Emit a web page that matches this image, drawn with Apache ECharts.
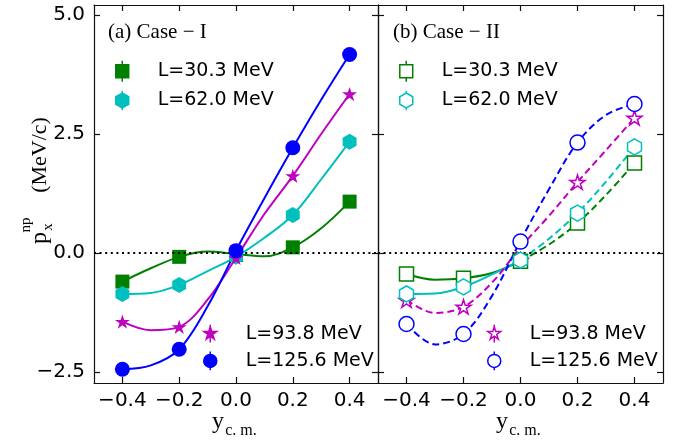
<!DOCTYPE html>
<html>
<head>
<meta charset="utf-8">
<script src="https://cdn.jsdelivr.net/npm/echarts@6/dist/echarts.min.js"></script>
<style>
  html, body { margin: 0; padding: 0; background: #fff; }
  #chart { width: 686px; height: 444px; }
</style>
</head>
<body>
<div id="chart"></div>
<script>
// x positions of the points and of the fit curves
var ycm = [-0.4, -0.2, 0.0, 0.2, 0.4];
var fitX = [-0.4, -0.3, -0.2, -0.1, 0.0, 0.1, 0.2, 0.3, 0.4];
var xTicks = [-0.4, -0.2, 0.0, 0.2, 0.4];
var yTicks = [-2.5, 0.0, 2.5, 5.0];
var names = ['L=30.3 MeV', 'L=62.0 MeV', 'L=93.8 MeV', 'L=125.6 MeV'];

// (a) Case-I points
var caseI_L30 = [-0.60, -0.08, -0.04, 0.12, 1.08];
var caseI_L62 = [-0.86, -0.67, -0.08, 0.80, 2.34];
var caseI_L94 = [-1.44, -1.55, -0.10, 1.62, 3.34];
var caseI_L126 = [-2.44, -2.02, 0.05, 2.21, 4.17];
// (a) Case-I fit curves
var caseI_fit30 = [-0.60, -0.32, -0.08, 0.03, -0.02, -0.07, 0.12, 0.52, 1.08];
var caseI_fit62 = [-0.86, -0.84, -0.67, -0.38, -0.08, 0.32, 0.80, 1.55, 2.34];
var caseI_fit94 = [-1.44, -1.62, -1.55, -0.98, -0.10, 0.82, 1.62, 2.50, 3.34];
var caseI_fit126 = [-2.44, -2.36, -2.02, -1.12, 0.05, 1.15, 2.21, 3.22, 4.17];

// (b) Case-II points
var caseII_L30 = [-0.44, -0.53, -0.17, 0.63, 1.89];
var caseII_L62 = [-0.86, -0.71, -0.15, 0.84, 2.23];
var caseII_L94 = [-0.99, -1.13, -0.15, 1.49, 2.84];
var caseII_L126 = [-1.49, -1.70, 0.24, 2.32, 3.13];
// (b) Case-II fit curves
var caseII_fit30 = [-0.44, -0.56, -0.53, -0.42, -0.17, 0.18, 0.63, 1.22, 1.89];
var caseII_fit62 = [-0.86, -0.85, -0.71, -0.45, -0.15, 0.30, 0.84, 1.50, 2.23];
var caseII_fit94 = [-0.99, -1.26, -1.13, -0.62, 0.12, 0.78, 1.49, 2.16, 2.84];
var caseII_fit126 = [-1.49, -1.92, -1.70, -0.90, 0.26, 1.34, 2.32, 2.90, 3.13];

var colors = ['#008000', '#00bfbf', '#bf00bf', '#0000ff'];
var SANS = 'DejaVu Sans';

// marker shapes
var SQUARE = 'rect';
var HEX = 'path://M0,-100 L87,-50 L87,50 L0,100 L-87,50 L-87,-50 Z';
var STAR = 'path://M0,-100 L22,-31 L95,-31 L36,12 L59,81 L0,38 L-59,81 L-36,12 L-95,-31 L-22,-31 Z';
var CIRCLE = 'circle';
// legend icons with the small error bar
var ICONS = [
  'path://M-80,-80 L80,-80 L80,80 L-80,80 Z M0,-80 L0,-130 M0,80 L0,130',
  'path://M0,-100 L87,-50 L87,50 L0,100 L-87,50 L-87,-50 Z M0,-100 L0,-130 M0,100 L0,130',
  'path://M0,-100 L22,-31 L95,-31 L36,12 L59,81 L0,38 L-59,81 L-36,12 L-95,-31 L-22,-31 Z M0,-100 L0,-130 M0,38 L0,130',
  'path://M0,-90 A90,90 0 1,1 0,90 A90,90 0 1,1 0,-90 Z M0,-90 L0,-130 M0,90 L0,130'
];
var shapes = [SQUARE, HEX, STAR, CIRCLE];
var sizes = [14, 16, 15, 15];

function pts(vals) { return ycm.map(function (x, i) { return [x, vals[i]]; }); }
function fit(vals) { return fitX.map(function (x, i) { return [x, vals[i]]; }); }

function fmt(v) {
  return (v < 0 ? '\u2212' : '') + Math.abs(v).toFixed(1);
}

var axisLineStyle = { color: '#111', width: 1.2 };

function xAxisFor(g, pos, labels) {
  return {
    type: 'value', gridIndex: g, position: pos, min: -0.5, max: 0.5,
    axisLine: { show: true, onZero: false, lineStyle: axisLineStyle },
    axisTick: { show: true, inside: true, length: 6, customValues: xTicks, lineStyle: axisLineStyle },
    axisLabel: { show: labels, customValues: xTicks, formatter: fmt, margin: 8,
      fontFamily: SANS, fontSize: 20, color: '#000' },
    splitLine: { show: false }
  };
}
function yAxisFor(g, pos, labels) {
  return {
    type: 'value', gridIndex: g, position: pos, min: -2.73, max: 5.21,
    axisLine: { show: true, onZero: false, lineStyle: axisLineStyle },
    axisTick: { show: true, inside: true, length: 6, customValues: yTicks, lineStyle: axisLineStyle },
    axisLabel: { show: labels, customValues: yTicks, formatter: fmt, margin: 9,
      fontFamily: SANS, fontSize: 20, color: '#000' },
    splitLine: { show: false }
  };
}

var zeroLine = {
  silent: true, symbol: ['none', 'none'], label: { show: false },
  lineStyle: { color: '#000', width: 2, type: [2, 3.6] },
  data: [{ yAxis: 0 }]
};

var series = [];
function addPanel(tag, g, pointSets, fitSets, open) {
  var xi = g * 2, yi = g * 2;
  fitSets.forEach(function (f, k) {
    if (open && k < 2) {
      // solid part on the left, dashed part on the right
      series.push({
        type: 'line', xAxisIndex: xi, yAxisIndex: yi, data: fit(f).slice(0, 5),
        smooth: 0.35, showSymbol: false, silent: true, z: 2,
        lineStyle: { color: colors[k], width: 2 },
        markLine: k === 0 ? zeroLine : undefined
      });
      series.push({
        type: 'line', xAxisIndex: xi, yAxisIndex: yi, data: fit(f).slice(4),
        smooth: 0.35, showSymbol: false, silent: true, z: 2,
        lineStyle: { color: colors[k], width: 2, type: [7, 4] }
      });
    } else {
      series.push({
        type: 'line', xAxisIndex: xi, yAxisIndex: yi, data: fit(f),
        smooth: 0.35, showSymbol: false, silent: true, z: 2,
        lineStyle: { color: colors[k], width: 2, type: open ? [7, 4] : 'solid' },
        markLine: k === 0 ? zeroLine : undefined
      });
    }
  });
  pointSets.forEach(function (p, k) {
    series.push({
      name: tag + names[k], type: 'scatter', xAxisIndex: xi, yAxisIndex: yi,
      data: pts(p), symbol: shapes[k], symbolSize: sizes[k], symbolKeepAspect: true,
      z: open ? (k >= 2 ? 3 : 5 + k) : 3 + k,
      itemStyle: open ? { color: '#fff', borderColor: colors[k], borderWidth: 1.5, opacity: 1 }
                      : { color: colors[k], borderWidth: 0, opacity: 1 }
    });
  });
}

addPanel('a:', 0, [caseI_L30, caseI_L62, caseI_L94, caseI_L126],
  [caseI_fit30, caseI_fit62, caseI_fit94, caseI_fit126], false);
addPanel('b:', 1, [caseII_L30, caseII_L62, caseII_L94, caseII_L126],
  [caseII_fit30, caseII_fit62, caseII_fit94, caseII_fit126], true);

function legendFor(tag, idx, left, top, open) {
  return {
    orient: 'vertical', left: left, top: top, itemWidth: 13, itemHeight: 21, itemGap: 7.5,
    selectedMode: false, padding: 0,
    formatter: function (n) { return n.slice(2); },
    textStyle: { fontFamily: SANS, fontSize: 19, color: '#000', padding: [0, 0, 0, 24] },
    data: idx.map(function (k) {
      return {
        name: tag + names[k], icon: ICONS[k],
        itemStyle: open ? { color: '#fff', borderColor: colors[k], borderWidth: 1.5, opacity: 1 }
                        : { color: colors[k], borderColor: colors[k], borderWidth: 1.5, opacity: 1 }
      };
    })
  };
}

var option = {
  backgroundColor: '#fff',
  animation: false,
  grid: [
    { left: 94, right: 308, top: 5, bottom: 61 },
    { left: 378, right: 23, top: 5, bottom: 61 }
  ],
  xAxis: [xAxisFor(0, 'bottom', true), xAxisFor(0, 'top', false),
          xAxisFor(1, 'bottom', true), xAxisFor(1, 'top', false)],
  yAxis: [yAxisFor(0, 'left', true), yAxisFor(0, 'right', false),
          yAxisFor(1, 'left', false), yAxisFor(1, 'right', false)],
  legend: [
    legendFor('a:', [0, 1], 115, 60, false),
    legendFor('a:', [2, 3], 203, 324, false),
    legendFor('b:', [0, 1], 399, 60, true),
    legendFor('b:', [2, 3], 487, 324, true)
  ],
  graphic: [
    { type: 'text', left: 108, top: 22, style: { text: '(a) Case \u2212 I', font: '21px "Liberation Serif"', fill: '#000' } },
    { type: 'text', left: 393, top: 22, style: { text: '(b) Case \u2212 II', font: '21px "Liberation Serif"', fill: '#000' } },
    { type: 'text', x: 218, y: 422, style: { text: 'y', font: '24px "Liberation Serif"', fill: '#000', align: 'center', verticalAlign: 'middle' } },
    { type: 'text', x: 241, y: 431, style: { text: 'c. m.', font: '16px "Liberation Serif"', fill: '#000', align: 'center', verticalAlign: 'middle' } },
    { type: 'text', x: 502, y: 422, style: { text: 'y', font: '24px "Liberation Serif"', fill: '#000', align: 'center', verticalAlign: 'middle' } },
    { type: 'text', x: 525, y: 431, style: { text: 'c. m.', font: '16px "Liberation Serif"', fill: '#000', align: 'center', verticalAlign: 'middle' } },
    { type: 'text', x: 40, y: 155, rotation: Math.PI / 2, style: { text: '(MeV/c)', font: '22px "Liberation Serif"', fill: '#000', align: 'center', verticalAlign: 'middle' } },
    { type: 'text', x: 40, y: 238, rotation: Math.PI / 2, style: { text: 'p', font: '24px "Liberation Serif"', fill: '#000', align: 'center', verticalAlign: 'middle' } },
    { type: 'text', x: 48, y: 227, rotation: Math.PI / 2, style: { text: 'x', font: '15px "Liberation Serif"', fill: '#000', align: 'center', verticalAlign: 'middle' } },
    { type: 'text', x: 26, y: 225, rotation: Math.PI / 2, style: { text: 'np', font: '15px "Liberation Serif"', fill: '#000', align: 'center', verticalAlign: 'middle' } }
  ],
  series: series
};

var chart = echarts.init(document.getElementById('chart'), null, { renderer: 'canvas' });
chart.setOption(option);
</script>
</body>
</html>
